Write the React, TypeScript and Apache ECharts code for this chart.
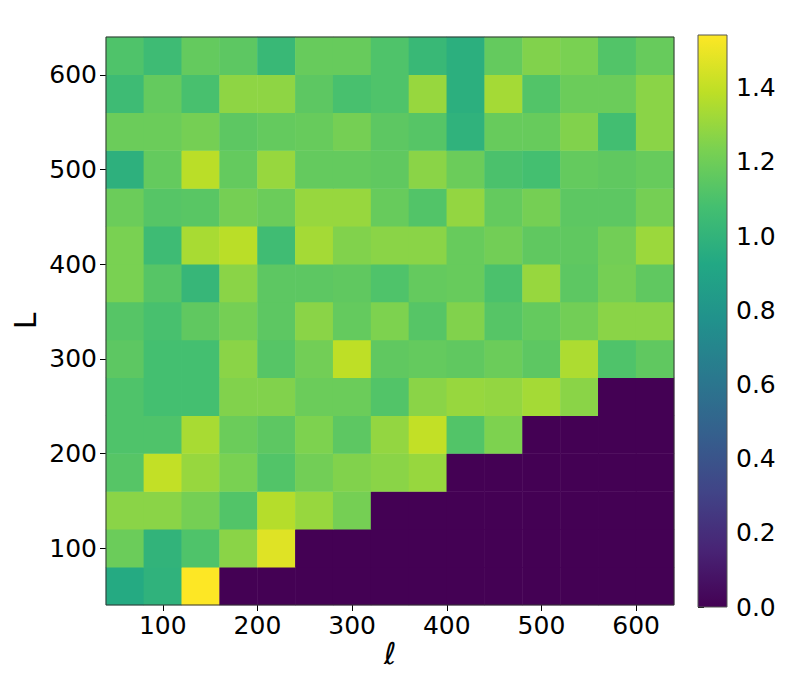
import React, { useEffect, useRef } from "react";
import * as echarts from "echarts";

// bin centres of the 40-wide bins (ℓ along x, L along y)
const ellBins = ["60", "100", "140", "180", "220", "260", "300", "340", "380", "420", "460", "500", "540", "580", "620"];
const LBins = ["60", "100", "140", "180", "220", "260", "300", "340", "380", "420", "460", "500", "540", "580", "620"];

// ratio values per L bin (columns follow ellBins)
const rowL620 = [1.11, 1.05, 1.17, 1.15, 1.03, 1.18, 1.18, 1.11, 1.03, 0.97, 1.17, 1.25, 1.23, 1.12, 1.18];
const rowL580 = [1.05, 1.17, 1.09, 1.28, 1.28, 1.15, 1.09, 1.11, 1.3, 0.97, 1.33, 1.12, 1.19, 1.19, 1.27];
const rowL540 = [1.19, 1.19, 1.22, 1.15, 1.17, 1.18, 1.22, 1.15, 1.13, 0.99, 1.18, 1.18, 1.25, 1.07, 1.27];
const rowL500 = [0.98, 1.17, 1.38, 1.17, 1.3, 1.17, 1.17, 1.16, 1.27, 1.19, 1.1, 1.08, 1.17, 1.16, 1.18];
const rowL460 = [1.19, 1.13, 1.14, 1.22, 1.19, 1.3, 1.3, 1.18, 1.12, 1.29, 1.17, 1.22, 1.15, 1.15, 1.22];
const rowL420 = [1.23, 1.05, 1.34, 1.38, 1.06, 1.33, 1.25, 1.27, 1.27, 1.18, 1.21, 1.16, 1.16, 1.21, 1.31];
const rowL380 = [1.23, 1.13, 1.02, 1.27, 1.15, 1.15, 1.16, 1.11, 1.17, 1.18, 1.1, 1.3, 1.15, 1.22, 1.16];
const rowL340 = [1.13, 1.09, 1.16, 1.22, 1.15, 1.27, 1.17, 1.24, 1.13, 1.25, 1.13, 1.17, 1.21, 1.27, 1.27];
const rowL300 = [1.15, 1.08, 1.08, 1.27, 1.13, 1.21, 1.39, 1.16, 1.17, 1.16, 1.19, 1.15, 1.35, 1.11, 1.16];
const rowL260 = [1.11, 1.08, 1.08, 1.25, 1.25, 1.19, 1.19, 1.12, 1.27, 1.3, 1.29, 1.33, 1.27, 0, 0];
const rowL220 = [1.11, 1.11, 1.34, 1.19, 1.15, 1.24, 1.15, 1.29, 1.4, 1.12, 1.24, 0, 0, 0, 0];
const rowL180 = [1.13, 1.4, 1.3, 1.23, 1.12, 1.21, 1.25, 1.27, 1.3, 0, 0, 0, 0, 0, 0];
const rowL140 = [1.27, 1.27, 1.22, 1.12, 1.37, 1.3, 1.22, 0, 0, 0, 0, 0, 0, 0, 0];
const rowL100 = [1.19, 1.0, 1.11, 1.27, 1.47, 0, 0, 0, 0, 0, 0, 0, 0, 0, 0];
const rowL60 = [0.94, 0.99, 1.542, 0, 0, 0, 0, 0, 0, 0, 0, 0, 0, 0, 0];

// rows ordered from lowest L to highest L
const rowsByL = [rowL60, rowL100, rowL140, rowL180, rowL220, rowL260, rowL300, rowL340, rowL380, rowL420, rowL460, rowL500, rowL540, rowL580, rowL620];

const axisTicks = [100, 200, 300, 400, 500, 600];
const colorbarTicks = [0, 0.2, 0.4, 0.6, 0.8, 1.0, 1.2, 1.4];
const vMin = 0;
const vMax = 1.542;
const axisMin = 40;
const axisMax = 640;

const viridis = ["#440154", "#482475", "#414487", "#355f8d", "#2a788e", "#21918c", "#22a884", "#44bf70", "#7ad151", "#bddf26", "#fde725"];

const FONT = "DejaVu Sans";

// layout
const PLOT = { left: 106, top: 37, width: 568, height: 568 };
const CBAR = { left: 698, top: 35, width: 29, height: 572 };

export default function App() {
  const ref = useRef<HTMLDivElement>(null);
  useEffect(() => {
    if (!ref.current) return;
    const chart = echarts.init(ref.current, null, { renderer: "svg" });
    const data: [number, number, number][] = [];
    rowsByL.forEach((row, yi) => row.forEach((v, xi) => data.push([xi, yi, v])));

    const tickStyle = { show: true, length: 6, lineStyle: { color: "#000", width: 1 } };
    const labelStyle = { color: "#000", fontSize: 25, fontFamily: FONT };

    const gradientStops = viridis.map((c, i) => ({ offset: i / (viridis.length - 1), color: c }));

    chart.setOption({
      animation: false,
      backgroundColor: "#fff",
      grid: [
        { ...PLOT, show: true, z: 10, borderColor: "#333", borderWidth: 1, backgroundColor: "transparent", outerBoundsMode: "none" },
        { ...CBAR, show: true, z: 10, borderColor: "#555", borderWidth: 1, backgroundColor: "transparent", outerBoundsMode: "none" },
      ],
      graphic: [
        {
          type: "rect",
          left: CBAR.left,
          top: CBAR.top,
          z: 1,
          shape: { width: CBAR.width, height: CBAR.height },
          style: { fill: new echarts.graphic.LinearGradient(0, 1, 0, 0, gradientStops) },
          silent: true,
        },
      ],
      xAxis: [
        {
          type: "value", gridIndex: 0, position: "bottom", min: axisMin, max: axisMax,
          axisLine: { show: false }, splitLine: { show: false },
          axisTick: { ...tickStyle, customValues: axisTicks },
          axisLabel: { ...labelStyle, margin: 8, customValues: axisTicks },
          name: "ℓ", nameLocation: "middle", nameGap: 33, nameMoveOverlap: false,
          nameTextStyle: { color: "#000", fontSize: 30, fontFamily: FONT, fontStyle: "italic" },
        },
        { type: "category", gridIndex: 0, data: ellBins, show: false },
        { type: "value", gridIndex: 1, show: false, min: 0, max: 1 },
      ],
      yAxis: [
        {
          type: "value", gridIndex: 0, position: "left", min: axisMin, max: axisMax,
          axisLine: { show: false }, splitLine: { show: false },
          axisTick: { ...tickStyle, customValues: axisTicks },
          axisLabel: { ...labelStyle, margin: 9, customValues: axisTicks },
          name: "L", nameLocation: "middle", nameGap: 66, nameRotate: 90, nameMoveOverlap: false,
          nameTextStyle: { color: "#000", fontSize: 30, fontFamily: FONT },
        },
        { type: "category", gridIndex: 0, data: LBins, show: false },
        {
          type: "value", gridIndex: 1, position: "right", min: vMin, max: vMax,
          axisLine: { show: false }, splitLine: { show: false },
          axisTick: { ...tickStyle, customValues: colorbarTicks },
          axisLabel: { ...labelStyle, margin: 9, customValues: colorbarTicks, formatter: (v: number) => v.toFixed(1) },
        },
      ],
      visualMap: {
        type: "continuous",
        show: false,
        seriesIndex: 0,
        dimension: 2,
        min: vMin,
        max: vMax,
        inRange: { color: viridis },
      },
      series: [
        {
          type: "heatmap",
          xAxisIndex: 1,
          yAxisIndex: 1,
          data,
          itemStyle: { borderWidth: 0 },
          emphasis: { disabled: true },
        },
      ],
    });
    return () => chart.dispose();
  }, []);
  return <div ref={ref} style={{ position: "fixed", left: 0, top: 0, width: 789, height: 677 }} />;
}
